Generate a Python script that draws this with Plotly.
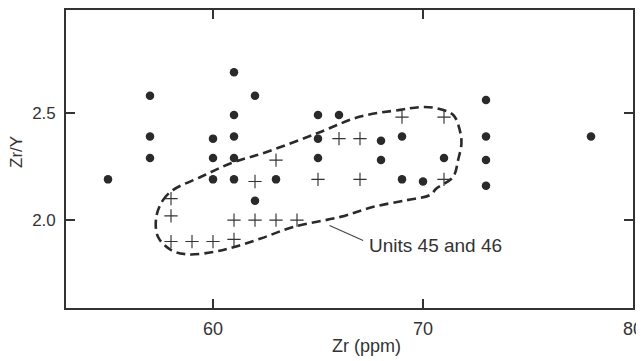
import plotly.graph_objects as go

# Other samples (filled dots)
dot_zr = [55, 57, 57, 57, 60, 60, 60, 61, 61, 61, 61, 61, 62, 62, 63,
          65, 65, 65, 66, 68, 68, 69, 69, 70, 71, 73, 73, 73, 73, 78]
dot_ratio = [2.19, 2.58, 2.39, 2.29, 2.38, 2.29, 2.19, 2.69, 2.49, 2.39, 2.29, 2.19, 2.58, 2.09, 2.19,
             2.49, 2.38, 2.29, 2.49, 2.37, 2.28, 2.39, 2.19, 2.18, 2.29, 2.56, 2.39, 2.28, 2.16, 2.39]

# Units 45 and 46 (crosses)
plus_zr = [58, 58, 58, 59, 60, 61, 61, 62, 63, 64, 62, 63, 65, 66, 67, 67, 69, 71, 71]
plus_ratio = [2.10, 2.02, 1.90, 1.90, 1.90, 1.91, 2.00, 2.00, 2.00, 2.00, 2.18, 2.28, 2.19,
              2.38, 2.38, 2.19, 2.48, 2.48, 2.19]

# Dashed field outline for Units 45 and 46
field_zr = [57.30, 57.62, 58.09, 59.43, 60.85, 62.59, 64.96, 67.01, 68.91, 69.86, 70.65,
            71.44, 71.75, 71.83, 71.67, 71.44, 70.65, 70.33, 69.23, 67.64, 66.07, 63.85,
            62.27, 61.01, 60.06, 58.80, 58.01, 57.38, 57.30]
field_ratio = [2.015, 2.093, 2.14, 2.202, 2.265, 2.319, 2.405, 2.483, 2.514, 2.527, 2.522,
               2.49, 2.42, 2.358, 2.28, 2.202, 2.148, 2.117, 2.093, 2.062, 2.015, 1.969,
               1.914, 1.875, 1.852, 1.84, 1.86, 1.922, 2.015]

# Leader line for the label
leader_zr = [65.55, 67.15]
leader_ratio = [1.975, 1.905]
label_text = "Units 45 and 46"
label_zr = 67.35
label_ratio = 1.883

x_ticks = [60, 70, 80]
y_ticks = [2.0, 2.5]

FONT = "Liberation Sans, Arial, Helvetica, sans-serif"
INK = "#2a2a2a"

# page has an 8px body margin: size the figure to fit inside the window
PAGE_OFF = 8
W, H = 644 - PAGE_OFF, 361 - PAGE_OFF
L, R, T, B = 66 - PAGE_OFF, 11, 10 - PAGE_OFF, 53
pw, ph = W - L - R, H - T - B

fig = go.Figure()

fig.add_trace(go.Scatter(
    x=field_zr, y=field_ratio, mode="lines",
    line=dict(color=INK, width=2.6, dash="9px,5px", shape="spline", smoothing=1.0),
    hoverinfo="skip", showlegend=False))

fig.add_trace(go.Scatter(
    x=leader_zr, y=leader_ratio, mode="lines",
    line=dict(color="#444", width=1.1), hoverinfo="skip", showlegend=False))

fig.add_trace(go.Scatter(
    x=dot_zr, y=dot_ratio, mode="markers",
    marker=dict(symbol="circle", size=8.5, color=INK, line=dict(width=0)),
    showlegend=False))

fig.add_trace(go.Scatter(
    x=plus_zr, y=plus_ratio, mode="markers",
    marker=dict(symbol="cross-thin", size=9.5, line=dict(color="#333", width=1.15)),
    showlegend=False))

fig.add_annotation(x=label_zr, y=label_ratio, xref="x", yref="y", text=label_text,
                   showarrow=False, xanchor="left", yanchor="middle",
                   font=dict(family=FONT, size=19, color="#333"))


def page_to_paper(px, py):
    fx, fy = px - PAGE_OFF, py - PAGE_OFF
    return (fx - L) / pw, (H - B - fy) / ph


tx, ty = page_to_paper(366, 346)
fig.add_annotation(x=tx, y=ty, xref="paper", yref="paper", text="Zr (ppm)", showarrow=False,
                   xanchor="center", yanchor="middle",
                   font=dict(family=FONT, size=18, color="#333"))
tx, ty = page_to_paper(16, 152)
fig.add_annotation(x=tx, y=ty, xref="paper", yref="paper", text="Zr/Y", showarrow=False,
                   xanchor="center", yanchor="middle",
                   textangle=-90, font=dict(family=FONT, size=17, color="#333"))

fig.update_xaxes(range=[53, 80], tickvals=x_ticks, ticks="inside", ticklen=9, tickwidth=1.5,
                 tickcolor="#333", showline=True, linecolor="#333", linewidth=1.6,
                 mirror="ticks", showgrid=False, zeroline=False, automargin=False,
                 ticklabelstandoff=4,
                 tickfont=dict(family=FONT, size=18, color="#333"))
fig.update_yaxes(range=[1.59, 2.98], tickvals=y_ticks, tickformat=".1f", ticks="inside",
                 ticklen=9, tickwidth=1.5, tickcolor="#333", showline=True, linecolor="#333",
                 linewidth=1.6, mirror="ticks", showgrid=False, zeroline=False, automargin=False,
                 ticklabelstandoff=5,
                 tickfont=dict(family=FONT, size=17, color="#333"))

fig.update_layout(width=W, height=H, margin=dict(l=L, r=R, t=T, b=B, autoexpand=False),
                  paper_bgcolor="white", plot_bgcolor="white", showlegend=False)

fig.write_html("out.html")
